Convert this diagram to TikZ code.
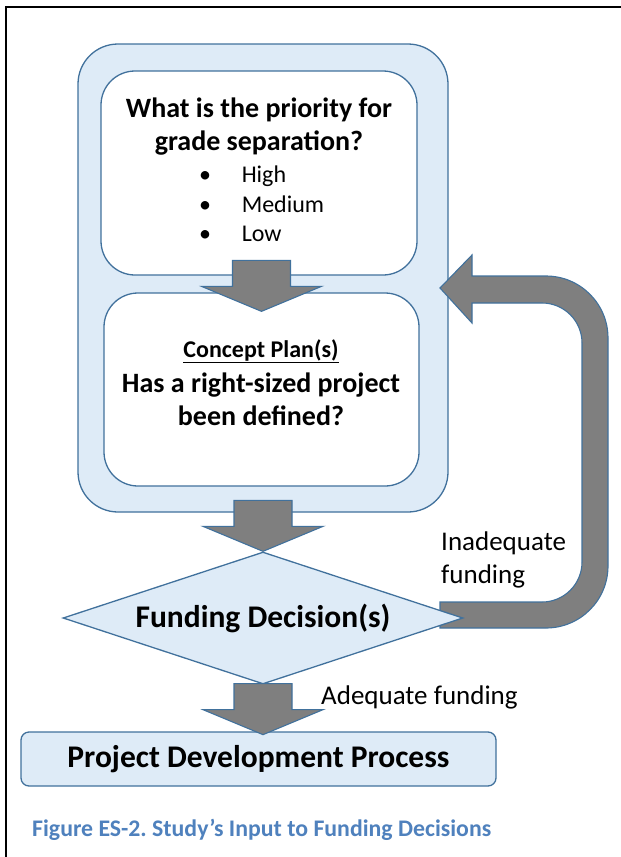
\documentclass[tikz,border=0pt]{standalone}
\usepackage{fontspec}
\setmainfont{Carlito}
\usepackage{xcolor}
\usepackage{tikz}
\usetikzlibrary{
  positioning,
  calc,
  shapes.geometric
}
\definecolor{boxfill}{HTML}{DEEBF7}
\definecolor{boxline}{HTML}{41719C}
\definecolor{arrowgray}{HTML}{7F7F7F}
\definecolor{capblue}{HTML}{4F81BD}
\frenchspacing

\begin{document}
\begin{tikzpicture}[x=1pt,y=-1pt,
  outerbox/.style={draw=boxline,fill=boxfill,line width=1.3pt,rounded corners=40pt},
  qbox/.style={draw=boxline,fill=white,line width=1.3pt,rounded corners=34pt},
  decision/.style={diamond,aspect=3.03,draw=boxline,fill=boxfill,line width=1.3pt,inner sep=0pt},
  procbox/.style={draw=boxline,fill=boxfill,line width=1.3pt,rounded corners=8pt},
  blockarrow/.style={draw=boxline,fill=arrowgray,line width=1.1pt,line join=miter},
  pics/downarrow/.style={code={
    \draw[blockarrow] (0,0) -- (-60,-25) -- (-29,-25) -- (-29,-51)
      -- (29,-51) -- (29,-25) -- (60,-25) -- cycle;}},
  boldtext/.style={font=\fontsize{28}{33.5}\selectfont\bfseries,align=center,inner sep=0pt},
  plaintext/.style={font=\fontsize{27}{33.5}\selectfont,align=left,inner sep=0pt}]
  \useasboundingbox (0,0) rectangle (621,857);
  % 枠
  \draw[line width=2.5pt] (6,857) -- (6,7) -- (621,7);
  % 外側の箱
  \node[outerbox,minimum width=370pt,minimum height=468pt] (outer) at (263,278) {};
  % 問い
  \node[qbox,minimum width=316pt,minimum height=204pt] (q1) at (259,173) {};
  \node[boldtext] (q1text) at (259,126.5) {What is the priority for\\grade separation?};
  \node[font=\fontsize{24}{29.3}\selectfont,align=left,inner sep=0pt,anchor=west] (levels) at (199,204)
    {\makebox[42.6pt][l]{\textbullet}High\\\makebox[42.6pt][l]{\textbullet}Medium\\\makebox[42.6pt][l]{\textbullet}Low};
  \node[qbox,minimum width=315pt,minimum height=193pt] (q2) at (261.5,389.5) {};
  \node[font=\fontsize{24}{29}\selectfont\bfseries,inner sep=0pt] (cptitle) at (261,351) {\underline{Concept Plan(s)}};
  \node[boldtext] (q2text) at (261,399.5) {Has a right-sized project\\been defined?};
  % 戻りの矢印
  \coordinate (fbtip) at (440,288);
  \draw[blockarrow] (fbtip) -- (472,255) -- (472,276) -- (546,276)
    arc[start angle=-90,end angle=0,radius=62] -- (608,566)
    arc[start angle=0,end angle=90,radius=62] -- (440,628) -- (440,602) -- (542,602)
    arc[start angle=90,end angle=0,radius=40] -- (582,343)
    arc[start angle=0,end angle=-90,radius=40] -- (472,303) -- (472,323) -- cycle;
  % 判断と手続き
  \node[decision,minimum width=400pt,minimum height=132pt,font=\fontsize{31.5}{38}\selectfont\bfseries] (fund) at (263,618) {Funding Decision(s)};
  \node[procbox,minimum width=475pt,minimum height=54pt,font=\fontsize{31.5}{38}\selectfont\bfseries] (dev) at (258.5,759) {Project Development Process};
  % 矢印
  \pic at ($(q2.north)+(0,19)$) {downarrow};
  \pic at (fund.north) {downarrow};
  \pic at ($(fund.south)+(0,50)$) {downarrow};
  % ラベル
  \node[plaintext,anchor=west] (inadequate) at (441,560) {Inadequate\\funding};
  \node[plaintext,anchor=west] (adequate) at (321,697) {Adequate funding};
  \node[font=\fontsize{23.8}{28}\selectfont\bfseries,text=capblue,anchor=west,inner sep=0pt] (caption) at (32,830)
    {Figure ES-2. Study’s Input to Funding Decisions};
\end{tikzpicture}
\end{document}
